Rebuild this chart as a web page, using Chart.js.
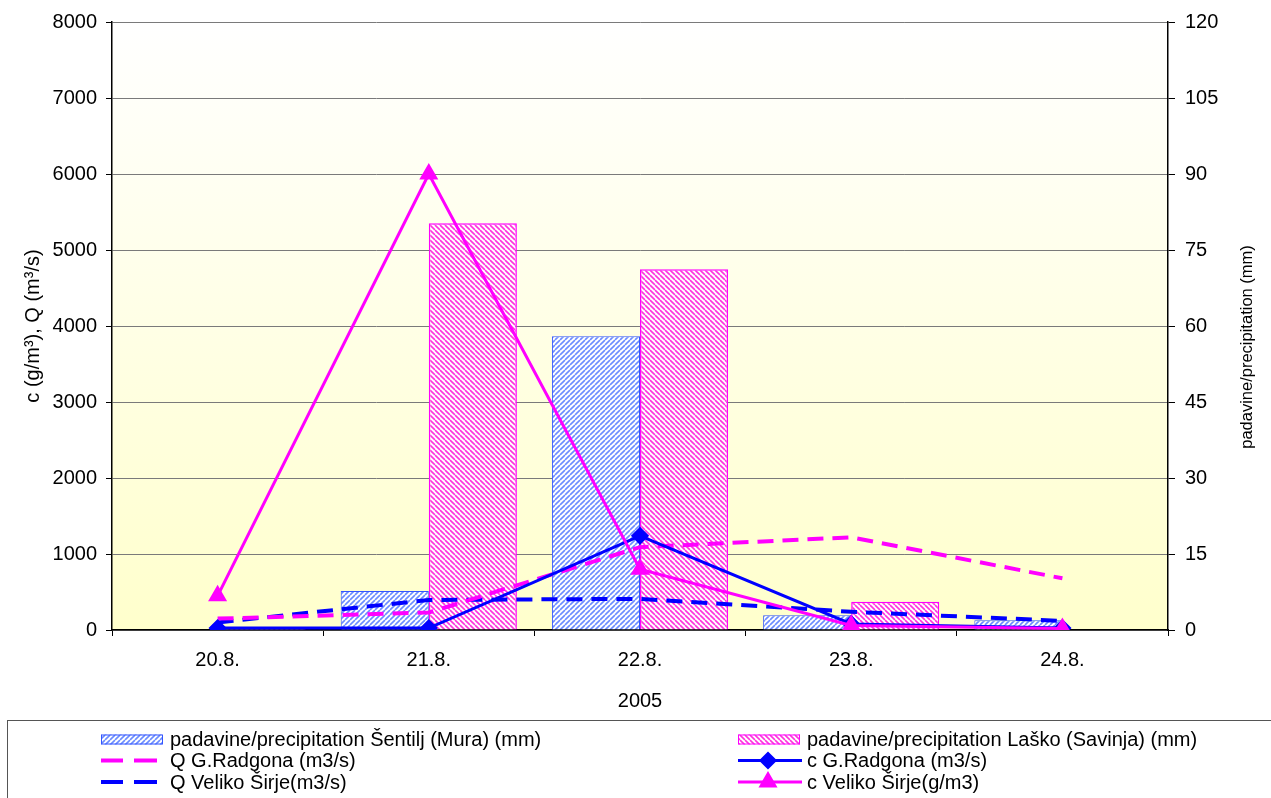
<!DOCTYPE html>
<html>
<head>
<meta charset="utf-8">
<script src="https://cdn.jsdelivr.net/npm/chart.js@4.4.1/dist/chart.umd.min.js"></script>
<style>
  html, body { margin: 0; padding: 0; background: #fff; }
  canvas { display: block; }
</style>
</head>
<body>
<canvas id="c" width="1271" height="798"></canvas>
<script>
// Days of the August 2005 event
const days = ['20.8.', '21.8.', '22.8.', '23.8.', '24.8.'];

// Daily precipitation (mm), right axis
const precipSentilj = [0, 7.7, 58, 2.9, 1.9];
const precipLasko = [0.4, 80.3, 71.2, 5.6, 0];

// Discharge Q (m3/s), left axis
const qRadgona = [150, 230, 1090, 1220, 680];
const qSirje = [100, 395, 410, 240, 120];

// Concentration c, left axis
const cRadgona = [25, 25, 1240, 80, 25];
const cSirje = [450, 6000, 800, 60, 20];

// Axis ranges and tick steps
const leftTicks = { min: 0, max: 8000, step: 1000 };
const rightTicks = { min: 0, max: 120, step: 15 };

const xTitle = '2005';
const leftTitle = 'c (g/m\u00B3), Q (m\u00B3/s)';
const rightTitle = 'padavine/precipitation (mm)';

const FONT = '"Liberation Sans", Arial, sans-serif';
const TICK_SIZE = 20;
const TITLE_SIZE = 20;
const RIGHT_TITLE_SIZE = 16.5;
const LEGEND_SIZE = 20;

const canvas = document.getElementById('c');
const ctx0 = canvas.getContext('2d');

// Diagonal hatch fill for the precipitation bars
function hatch(stripe, dir, step, width) {
  const t = document.createElement('canvas');
  t.width = step; t.height = step;
  const g = t.getContext('2d');
  g.fillStyle = '#ffffff';
  g.fillRect(0, 0, step, step);
  g.strokeStyle = stripe;
  g.lineWidth = width;
  g.beginPath();
  for (let k = -1; k <= 1; k++) {
    if (dir > 0) { g.moveTo(k * step, step); g.lineTo(k * step + step, 0); }
    else { g.moveTo(k * step, 0); g.lineTo(k * step + step, step); }
  }
  g.stroke();
  return ctx0.createPattern(t, 'repeat');
}
const blueHatch = hatch('#6b8cff', 1, 5, 1.6);
const pinkHatch = hatch('#ff33dd', -1, 5, 1.6);

// Pale yellow plot background
const plotBackground = {
  id: 'plotBackground',
  beforeDraw(chart) {
    const { ctx, chartArea: a } = chart;
    const g = ctx.createLinearGradient(0, a.top, 0, a.bottom);
    g.addColorStop(0, '#ffffff');
    g.addColorStop(1, '#ffffcc');
    ctx.save();
    ctx.fillStyle = g;
    ctx.fillRect(a.left, a.top, a.right - a.left, a.bottom - a.top);
    ctx.restore();
  }
};

// Axis titles and the boxed two-column legend
const decorations = {
  id: 'decorations',
  afterDraw(chart) {
    const c = chart.ctx;
    const a = chart.chartArea;
    c.save();
    c.fillStyle = '#000';
    c.font = TITLE_SIZE + 'px ' + FONT;
    c.textAlign = 'center';
    c.textBaseline = 'middle';
    c.fillText(xTitle, (a.left + a.right) / 2, 701);

    c.save();
    c.translate(33, (a.top + a.bottom) / 2);
    c.rotate(-Math.PI / 2);
    c.fillText(leftTitle, 0, 0);
    c.restore();

    c.save();
    c.font = RIGHT_TITLE_SIZE + 'px ' + FONT;
    c.translate(1247, 347);
    c.rotate(-Math.PI / 2);
    c.fillText(rightTitle, 0, 0);
    c.restore();

    // legend frame
    c.strokeStyle = '#555';
    c.lineWidth = 1;
    c.strokeRect(7.5, 720.5, 1300, 100);

    const cols = [101, 738];
    const rows = [739.5, 760.5, 782];
    c.font = LEGEND_SIZE + 'px ' + FONT;
    c.textAlign = 'left';
    chart.data.datasets.forEach((ds, i) => {
      const x = cols[i % 2];
      const y = rows[Math.floor(i / 2)];
      const tx = x + 69;
      if (ds.type === 'bar') {
        c.fillStyle = ds.backgroundColor;
        c.fillRect(x, y - 5, 62, 10);
        c.strokeStyle = ds.borderColor;
        c.lineWidth = 1;
        c.strokeRect(x + 0.5, y - 4.5, 61, 9);
      } else if (ds.borderDash) {
        c.strokeStyle = ds.borderColor;
        c.lineWidth = ds.borderWidth;
        c.beginPath();
        c.moveTo(x, y); c.lineTo(x + 22, y);
        c.moveTo(x + 33, y); c.lineTo(x + 56, y);
        c.stroke();
      } else {
        c.strokeStyle = ds.borderColor;
        c.lineWidth = ds.borderWidth;
        c.beginPath();
        c.moveTo(x, y); c.lineTo(x + 64, y);
        c.stroke();
        c.fillStyle = ds.pointBackgroundColor;
        c.strokeStyle = ds.pointBorderColor;
        Chart.helpers.drawPoint(c, {
          pointStyle: ds.pointStyle, radius: ds.pointRadius, rotation: 0, borderWidth: 1
        }, x + 30, y);
      }
      c.fillStyle = '#000';
      c.fillText(ds.label, tx, y + 1);
    });
    c.restore();
  }
};

const plainNumber = (v) => String(v);

new Chart(canvas, {
  data: {
    labels: days,
    datasets: [
      {
        type: 'bar', label: 'padavine/precipitation \u0160entilj (Mura) (mm)',
        data: precipSentilj, yAxisID: 'yP',
        backgroundColor: blueHatch, borderColor: '#3355ff', borderWidth: 1,
        categoryPercentage: 0.834, barPercentage: 1, order: 3
      },
      {
        type: 'bar', label: 'padavine/precipitation La\u0161ko (Savinja) (mm)',
        data: precipLasko, yAxisID: 'yP',
        backgroundColor: pinkHatch, borderColor: '#ff00ff', borderWidth: 1.5,
        categoryPercentage: 0.834, barPercentage: 1, order: 3
      },
      {
        type: 'line', label: 'Q G.Radgona (m3/s)', data: qRadgona, yAxisID: 'yC',
        borderColor: '#ff00ff', borderWidth: 4, borderDash: [16, 9],
        pointRadius: 0, tension: 0, fill: false, order: 2
      },
      {
        type: 'line', label: 'c G.Radgona (m3/s)', data: cRadgona, yAxisID: 'yC',
        borderColor: '#0000ff', borderWidth: 3, tension: 0, fill: false,
        pointStyle: 'rectRot', pointRadius: 7,
        pointBackgroundColor: '#0000ff', pointBorderColor: '#0000ff', order: 1
      },
      {
        type: 'line', label: 'Q Veliko \u0160irje(m3/s)', data: qSirje, yAxisID: 'yC',
        borderColor: '#0000ff', borderWidth: 4, borderDash: [16, 9],
        pointRadius: 0, tension: 0, fill: false, order: 2
      },
      {
        type: 'line', label: 'c Veliko \u0160irje(g/m3)', data: cSirje, yAxisID: 'yC',
        borderColor: '#ff00ff', borderWidth: 3, tension: 0, fill: false,
        pointStyle: 'triangle', pointRadius: 8,
        pointBackgroundColor: '#ff00ff', pointBorderColor: '#ff00ff', order: 0
      }
    ]
  },
  options: {
    responsive: false,
    animation: false,
    devicePixelRatio: 1,
    layout: { padding: { top: 19, bottom: 78, left: 0, right: 0 } },
    plugins: { legend: { display: false }, tooltip: { enabled: false } },
    scales: {
      x: {
        offset: true,
        grid: { offset: true, drawOnChartArea: false, drawTicks: true, tickLength: 6, color: '#000' },
        border: { color: '#000', width: 1.5 },
        ticks: { font: { family: FONT, size: TICK_SIZE }, color: '#000', padding: 12, maxRotation: 0 },
        afterFit(s) { s.height = 90; }
      },
      yC: {
        position: 'left', min: leftTicks.min, max: leftTicks.max,
        ticks: { stepSize: leftTicks.step, callback: plainNumber, font: { family: FONT, size: TICK_SIZE }, color: '#000', padding: 9 },
        grid: { color: '#7a7a7a', lineWidth: 1, tickLength: 6, tickColor: '#000' },
        border: { color: '#000', width: 1.5 },
        afterFit(s) { s.width = 112; }
      },
      yP: {
        position: 'right', min: rightTicks.min, max: rightTicks.max,
        ticks: { stepSize: rightTicks.step, callback: plainNumber, font: { family: FONT, size: TICK_SIZE }, color: '#000', padding: 10 },
        grid: { drawOnChartArea: false, tickLength: 7, color: '#000' },
        border: { color: '#000', width: 1.5 },
        afterFit(s) { s.width = 103; }
      }
    }
  },
  plugins: [plotBackground, decorations]
});
</script>
</body>
</html>
